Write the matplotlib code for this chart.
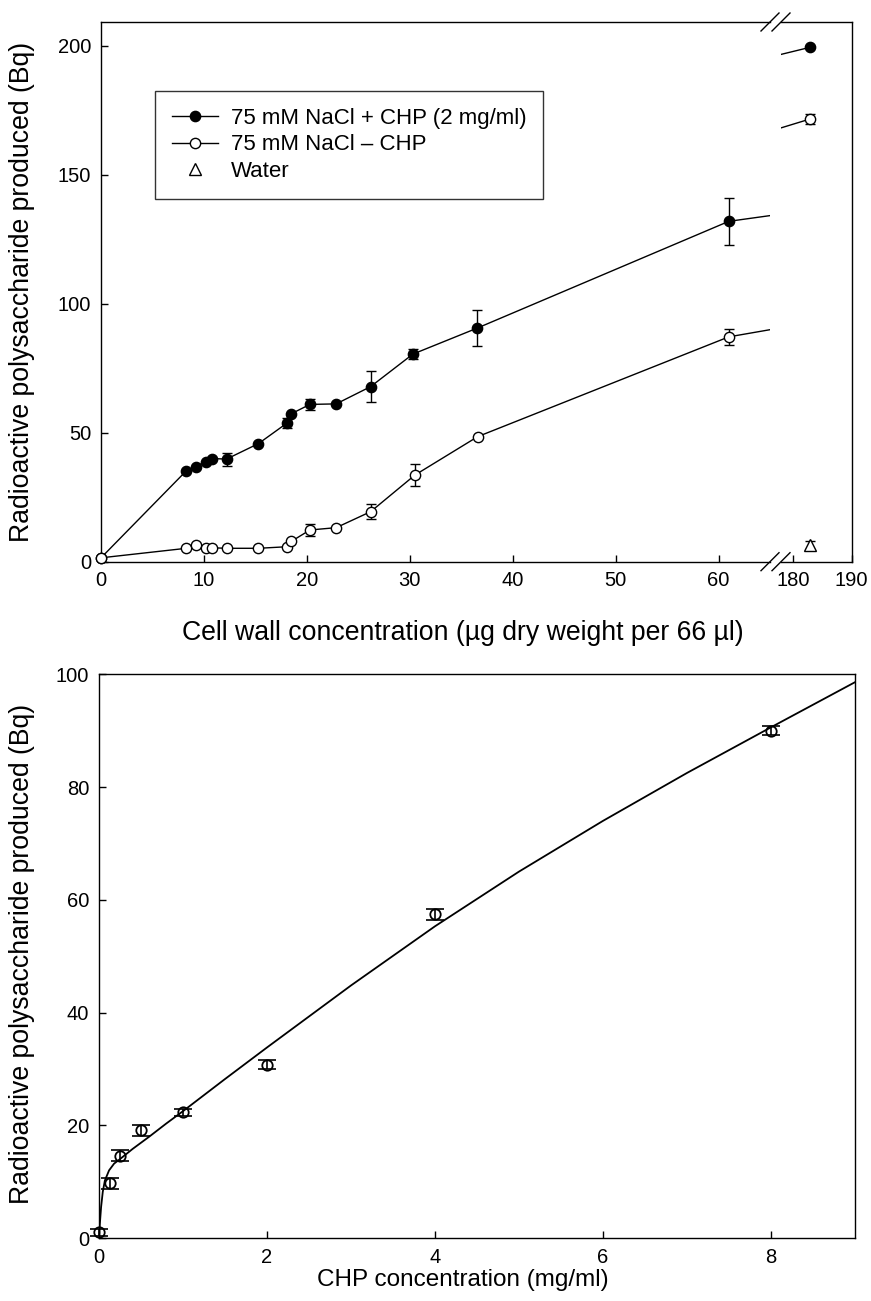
import matplotlib
matplotlib.use("Agg")
import matplotlib.pyplot as plt
from matplotlib.lines import Line2D

plt.rcParams['font.family'] = ['Liberation Sans', 'DejaVu Sans']

W, H = 871, 1301

# cell wall dose response, 75 mM NaCl with and without CHP (2 mg/ml)
wall_plus_x = [0, 8.3, 9.2, 10.2, 10.8, 12.2, 15.3, 18.05, 18.5, 20.3, 22.85, 26.2, 30.3, 36.5, 61.0, 182.9]
wall_plus_y = [1.5, 35.3, 36.9, 38.8, 40.0, 39.8, 45.8, 53.7, 57.4, 61.0, 61.2, 67.9, 80.5, 90.5, 132.0, 199.5]
wall_plus_err = [0, 0, 0, 0, 0, 2.5, 0, 2.0, 0, 2.0, 0, 6.0, 2.0, 7.0, 9.2, 0]

wall_minus_x = [0, 8.3, 9.2, 10.2, 10.8, 12.2, 15.3, 18.05, 18.5, 20.3, 22.85, 26.2, 30.5, 36.6, 61.0, 182.9]
wall_minus_y = [1.5, 5.2, 6.4, 5.2, 5.4, 5.2, 5.2, 5.8, 7.9, 12.3, 13.2, 19.4, 33.6, 48.5, 87.2, 171.7]
wall_minus_err = [0, 0, 0, 0, 0, 0, 0, 0, 0, 2.5, 0, 3.0, 4.2, 0, 3.0, 2.0]

water_x = [182.9]
water_y = [6.5]
water_err = [1.5]

# CHP dose response
chp_x = [0, 0.125, 0.25, 0.5, 1, 2, 4, 8]
chp_y = [1.0, 9.7, 14.6, 19.1, 22.3, 30.7, 57.4, 90.0]
chp_err = [0.6, 1.0, 1.0, 1.0, 0.6, 0.8, 1.0, 0.8]

fit_x = [0, 0.01, 0.025, 0.045, 0.07, 0.12, 0.18, 0.25, 0.4, 0.6, 0.8, 1.0,
         1.5, 2, 3, 4, 5, 6, 7, 8, 9]
fit_y = [0, 2.5, 5.5, 8.2, 10.2, 12.0, 13.2, 14.0, 15.8, 18.0, 20.3, 22.5,
         28.2, 33.8, 44.8, 55.3, 65.0, 74.0, 82.5, 90.6, 98.6]


def px_box(left, top, right, bottom):
    return [left / W, 1 - bottom / H, (right - left) / W, (bottom - top) / H]


def style_axis(ax):
    for sp in ax.spines.values():
        sp.set_linewidth(1.0)
    ax.tick_params(direction='in', length=5, width=1.0, labelsize=14.5, pad=7,
                   top=False, right=False)


def draw_series(ax, x, y, err, lo, hi, marker, face, ms, line=True, z=3):
    if line:
        ax.plot(x, y, color='k', lw=1.0, zorder=2)
    idx = [i for i in range(len(x)) if lo <= x[i] <= hi]
    ex = [x[i] for i in idx if err[i] > 0]
    ey = [y[i] for i in idx if err[i] > 0]
    ee = [err[i] for i in idx if err[i] > 0]
    if ex:
        ax.errorbar(ex, ey, yerr=ee, fmt='none', ecolor='k', elinewidth=1.0,
                    capsize=3.4, capthick=1.0, zorder=z, clip_on=False)
    ax.plot([x[i] for i in idx], [y[i] for i in idx], ls='none', marker=marker,
            ms=ms, mfc=face, mec='k', mew=1.0, zorder=z + 1, clip_on=False)


fig = plt.figure(figsize=(W / 100, H / 100), dpi=100)

# top panel: broken x axis
ax_l = fig.add_axes(px_box(101, 22, 770, 561.7))
ax_r = fig.add_axes(px_box(781, 22, 851.7, 561.7))
for ax, lo, hi in ((ax_l, 0, 65.0), (ax_r, 177.9, 190)):
    style_axis(ax)
    ax.set_xlim(lo, hi)
    ax.set_ylim(0, 209.3)
    draw_series(ax, wall_plus_x, wall_plus_y, wall_plus_err, lo, hi, 'o', 'k', 7.4, z=3)
    draw_series(ax, wall_minus_x, wall_minus_y, wall_minus_err, lo, hi, 'o', 'w', 7.4, z=5)
    draw_series(ax, water_x, water_y, water_err, lo, hi, '^', 'w', 8, line=False, z=5)

ax_l.spines['right'].set_visible(False)
ax_l.set_xticks(range(0, 61, 10))
ax_l.set_yticks(range(0, 201, 50))
ax_r.spines['left'].set_visible(False)
ax_r.set_xticks([180, 190])
ax_r.set_yticks([])

# break marks on the top and bottom edges
for ypx in (22, 561.7):
    for xc in (770, 781):
        fig.add_artist(Line2D([(xc - 9) / W, (xc + 9) / W],
                              [1 - (ypx + 9) / H, 1 - (ypx - 9) / H],
                              color='k', lw=1.0))

fig.text(463 / W, 1 - 633 / H, 'Cell wall concentration (\u00b5g dry weight per 66 \u00b5l)',
         ha='center', va='center', fontsize=19.2)
fig.text(22 / W, 1 - 292 / H, 'Radioactive polysaccharide produced (Bq)',
         ha='center', va='center', rotation=90, fontsize=19.2)

handles = [
    Line2D([], [], color='k', lw=1.0, marker='o', ms=7.4, mfc='k', mec='k'),
    Line2D([], [], color='k', lw=1.0, marker='o', ms=7.4, mfc='w', mec='k'),
    Line2D([], [], ls='none', marker='^', ms=8, mfc='w', mec='k'),
]
labels = ['75 mM NaCl + CHP (2 mg/ml)', '75 mM NaCl \u2013 CHP', 'Water']
leg = fig.legend(handles, labels, loc='upper left', bbox_to_anchor=(155 / W, 1 - 91 / H),
                 borderaxespad=0, frameon=True, fancybox=False, fontsize=16,
                 handlelength=2.1, handletextpad=0.55, labelspacing=0.26, borderpad=0.75)
leg.get_frame().set_edgecolor('k')
leg.get_frame().set_linewidth(1.0)

# bottom panel: CHP concentration
ax_b = fig.add_axes(px_box(99, 674.3, 855, 1238))
style_axis(ax_b)
ax_b.set_xlim(0, 9)
ax_b.set_ylim(0, 100)
ax_b.set_xticks(range(0, 9, 2))
ax_b.set_yticks(range(0, 101, 20))
ax_b.plot(fit_x, fit_y, color='k', lw=1.3, zorder=2)
ax_b.errorbar(chp_x, chp_y, yerr=chp_err, fmt='none', ecolor='k', elinewidth=1.2,
              capsize=6.8, capthick=1.2, zorder=3, clip_on=False)
ax_b.plot(chp_x, chp_y, ls='none', marker='o', ms=7.5, mfc='none', mec='k', mew=1.3,
          zorder=4, clip_on=False)

fig.text(463 / W, 1 - 1280 / H, 'CHP concentration (mg/ml)',
         ha='center', va='center', fontsize=17.5)
fig.text(22 / W, 1 - 954 / H, 'Radioactive polysaccharide produced (Bq)',
         ha='center', va='center', rotation=90, fontsize=19.2)

fig.savefig('out.png', dpi=100)
